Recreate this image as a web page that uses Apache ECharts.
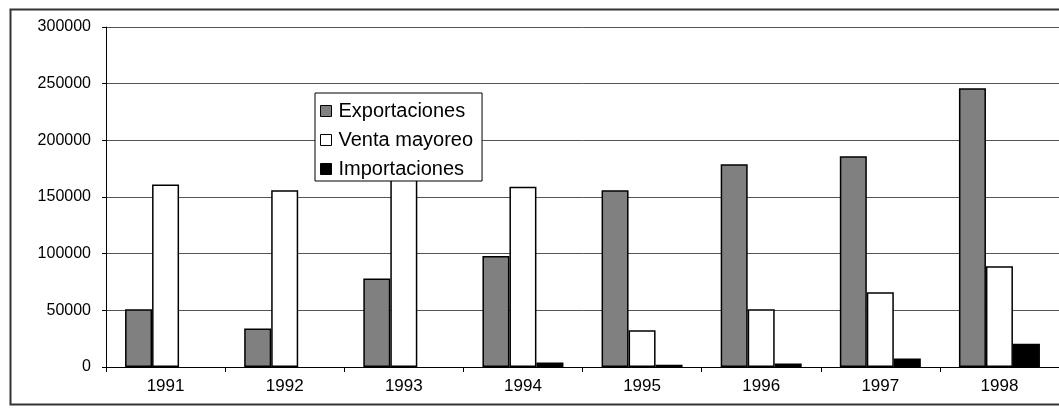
<!DOCTYPE html>
<html>
<head>
<meta charset="utf-8">
<script src="https://cdn.jsdelivr.net/npm/echarts@6/dist/echarts.min.js"></script>
<style>
    html, body { margin: 0; padding: 0; background: #fff; }
    #chart { width: 1059px; height: 413px; }
</style>
</head>
<body>
<div id="chart"></div>
<script>
// años
const years = ["1991", "1992", "1993", "1994", "1995", "1996", "1997", "1998"];
// valores (null = sin barra)
const exportaciones = [51000, 34000, 78000, 98000, 156000, 179000, 186000, 246000];
const ventaMayoreo = [161000, 156000, 168000, 159000, 32500, 51000, 66000, 89000];
const importaciones = [null, null, null, 4000, 2000, 3000, 7500, 20500];
const yTicks = [0, 50000, 100000, 150000, 200000, 250000, 300000];

const font = "Liberation Sans";

function barSerie(name, data, color) {
    return {
        name: name,
        type: "bar",
        data: data,
        barWidth: 27,
        barGap: "0%",
        barCategoryGap: "32.5%",
        itemStyle: {
            color: color,
            borderColor: "#000",
            borderWidth: 1.5,
        },
        emphasis: { disabled: true },
    };
}

const chart = echarts.init(document.getElementById("chart"));
chart.setOption({
    animation: false,
    textStyle: { fontFamily: font, color: "#000" },
    graphic: [
        {
            type: "rect",
            shape: { x: 10.5, y: 9.5, width: 1060, height: 395 },
            style: { fill: null, stroke: "#333", lineWidth: 2 },
            z: 0,
        },
    ],
    grid: {
        left: 106,
        right: -7,
        top: 27,
        bottom: 46,
    },
    legend: {
        orient: "vertical",
        left: 315,
        top: 93,
        padding: [7, 9, 1, 5],
        itemGap: 7,
        itemWidth: 11,
        itemHeight: 11,
        icon: "rect",
        backgroundColor: "#fff",
        borderColor: "#000",
        borderWidth: 1,
        borderRadius: 0,
        selectedMode: false,
        textStyle: {
            fontFamily: font,
            fontSize: 20,
            color: "#000",
            padding: [0, 0, 0, 2],
            lineHeight: 22,
        },
        itemStyle: { borderColor: "#000", borderWidth: 1 },
        data: ["Exportaciones", "Venta mayoreo", "Importaciones"],
    },
    xAxis: {
        type: "category",
        data: years,
        axisLine: { lineStyle: { color: "#000", width: 1 } },
        axisTick: { show: true, length: 5, lineStyle: { color: "#000" } },
        axisLabel: { fontFamily: font, fontSize: 17, color: "#000", margin: 11 },
        splitLine: { show: false },
    },
    yAxis: {
        type: "value",
        min: yTicks[0],
        max: yTicks[yTicks.length - 1],
        interval: yTicks[1] - yTicks[0],
        axisLine: { show: true, lineStyle: { color: "#000", width: 1 } },
        axisTick: { show: true, length: 4, lineStyle: { color: "#000" } },
        axisLabel: {
            fontFamily: font,
            fontSize: 16,
            color: "#000",
            margin: 15,
            formatter: (v) => String(v),
        },
        splitLine: { show: true, lineStyle: { color: "#555", width: 1 } },
    },
    series: [
        barSerie("Exportaciones", exportaciones, "#808080"),
        barSerie("Venta mayoreo", ventaMayoreo, "#fff"),
        barSerie("Importaciones", importaciones, "#000"),
    ],
});
</script>
</body>
</html>
